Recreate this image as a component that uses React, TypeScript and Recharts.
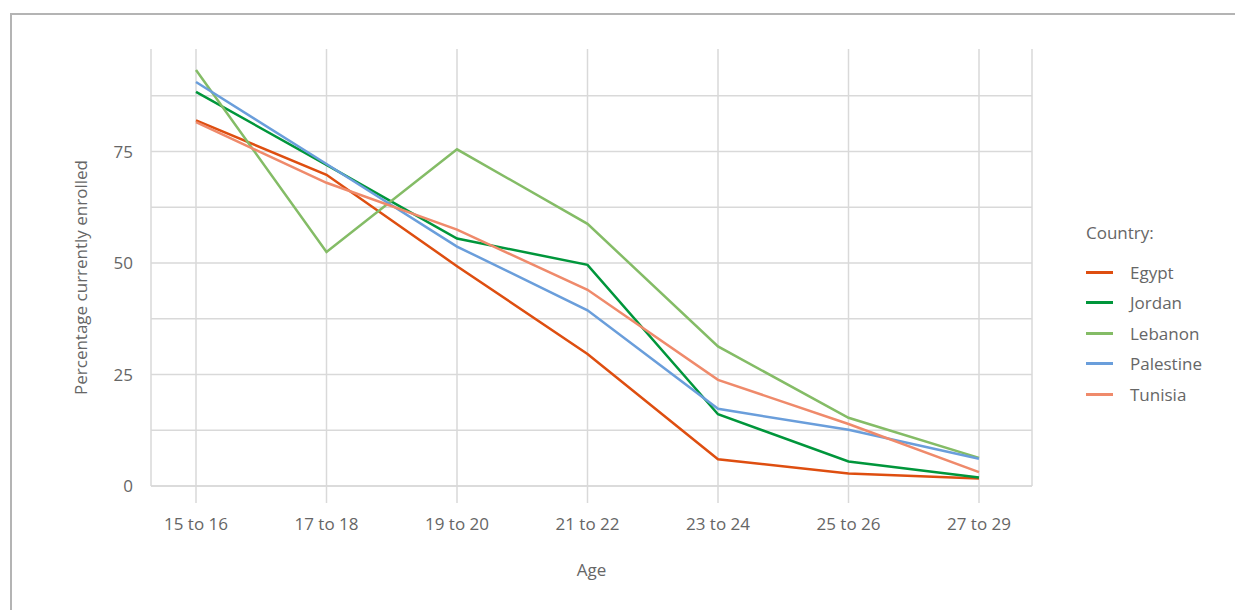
import React from 'react';
import { LineChart, Line, XAxis, YAxis, CartesianGrid, Legend } from 'recharts';

const ageGroups = ['15 to 16', '17 to 18', '19 to 20', '21 to 22', '23 to 24', '25 to 26', '27 to 29'];

const egypt = [82.0, 69.8, 49.3, 29.6, 6.0, 2.8, 1.7];
const jordan = [88.4, 72.0, 55.5, 49.6, 16.1, 5.5, 1.9];
const lebanon = [93.3, 52.5, 75.5, 58.8, 31.3, 15.3, 6.3];
const palestine = [90.6, 72.2, 53.7, 39.4, 17.3, 12.6, 6.1];
const tunisia = [81.6, 68.0, 57.5, 44.0, 23.8, 13.9, 3.1];

const yTicks = [0, 12.5, 25, 37.5, 50, 62.5, 75, 87.5];

const seriesList = [
  { key: 'egypt', name: 'Egypt', color: '#de4e10', values: egypt },
  { key: 'jordan', name: 'Jordan', color: '#00963b', values: jordan },
  { key: 'lebanon', name: 'Lebanon', color: '#84bc66', values: lebanon },
  { key: 'palestine', name: 'Palestine', color: '#6a9edb', values: palestine },
  { key: 'tunisia', name: 'Tunisia', color: '#ef8a6b', values: tunisia },
];

const data = ageGroups.map((age, i) => {
  const row: { [key: string]: string | number } = { age };
  seriesList.forEach(s => { row[s.key] = s.values[i]; });
  return row;
});

const FONT = '"Open Sans", Lato, sans-serif';
const TEXT = '#666666';
const GRID = '#d9d9d9';

const CountryLegend = () => (
  <div style={{ fontFamily: FONT, fontSize: 17, color: TEXT }}>
    <div style={{ height: 20, lineHeight: '20px', marginBottom: 14 }}>Country:</div>
    {seriesList.map(s => (
      <div key={s.key} style={{ display: 'flex', alignItems: 'center', height: 30.5 }}>
        <span style={{ display: 'inline-block', width: 27, height: 3, background: s.color, marginRight: 17 }} />
        <span>{s.name}</span>
      </div>
    ))}
  </div>
);

const YTitle = ({ viewBox }: any) => {
  const cx = 72;
  const cy = viewBox.y + viewBox.height / 2 + 10;
  return (
    <text x={cx} y={cy} transform={`rotate(-90, ${cx}, ${cy})`} textAnchor="middle" dominantBaseline="central"
      fill={TEXT} fontSize={17} fontFamily={FONT}>
      Percentage currently enrolled
    </text>
  );
};

const XTitle = ({ viewBox }: any) => (
  <text x={viewBox.x + viewBox.width / 2} y={561} textAnchor="middle" dominantBaseline="central"
    fill={TEXT} fontSize={17} fontFamily={FONT}>
    Age
  </text>
);

const App: React.FC = () => {
  return (
    <div style={{ position: 'relative', width: 1235, height: 602, overflow: 'hidden', background: '#fff' }}>
      <div style={{ position: 'absolute', left: 2, top: 5, width: 1400, height: 800, borderTop: '2px solid #b4b4b4', borderLeft: '2px solid #b4b4b4', boxSizing: 'border-box' }} />
      <div style={{ position: 'absolute', left: 0, top: 0 }}>
        <LineChart width={1235} height={602} data={data} margin={{ top: 41, right: 211, left: 0, bottom: 29 }}>
          <CartesianGrid stroke={GRID} strokeWidth={1.5} horizontalValues={yTicks} />
          <XAxis
            dataKey="age"
            height={95}
            padding={{ left: 45, right: 53 }}
            axisLine={{ stroke: GRID, strokeWidth: 1.5 }}
            tickLine={{ stroke: GRID, strokeWidth: 1.5 }}
            tickSize={17}
            tickMargin={15}
            tick={{ fill: TEXT, fontSize: 17, fontFamily: FONT }}
            interval={0}
            label={<XTitle />}
          />
          <YAxis
            width={143}
            domain={[0, 98]}
            ticks={yTicks}
            axisLine={false}
            tickLine={false}
            tickSize={0}
            tickMargin={18}
            tick={{ fill: TEXT, fontSize: 17, fontFamily: FONT }}
            tickFormatter={(v: number) => (v % 25 === 0 ? String(v) : '')}
            label={<YTitle />}
          />
          <Legend
            layout="vertical"
            align="center"
            verticalAlign="middle"
            content={<CountryLegend />}
            wrapperStyle={{ left: 1078, top: 215, width: 150, height: 'auto' }}
          />
          {seriesList.map(s => (
            <Line
              key={s.key}
              name={s.name}
              type="linear"
              dataKey={s.key}
              stroke={s.color}
              strokeWidth={2.5}
              dot={false}
              activeDot={false}
              isAnimationActive={false}
            />
          ))}
        </LineChart>
      </div>
    </div>
  );
};

export default App;
